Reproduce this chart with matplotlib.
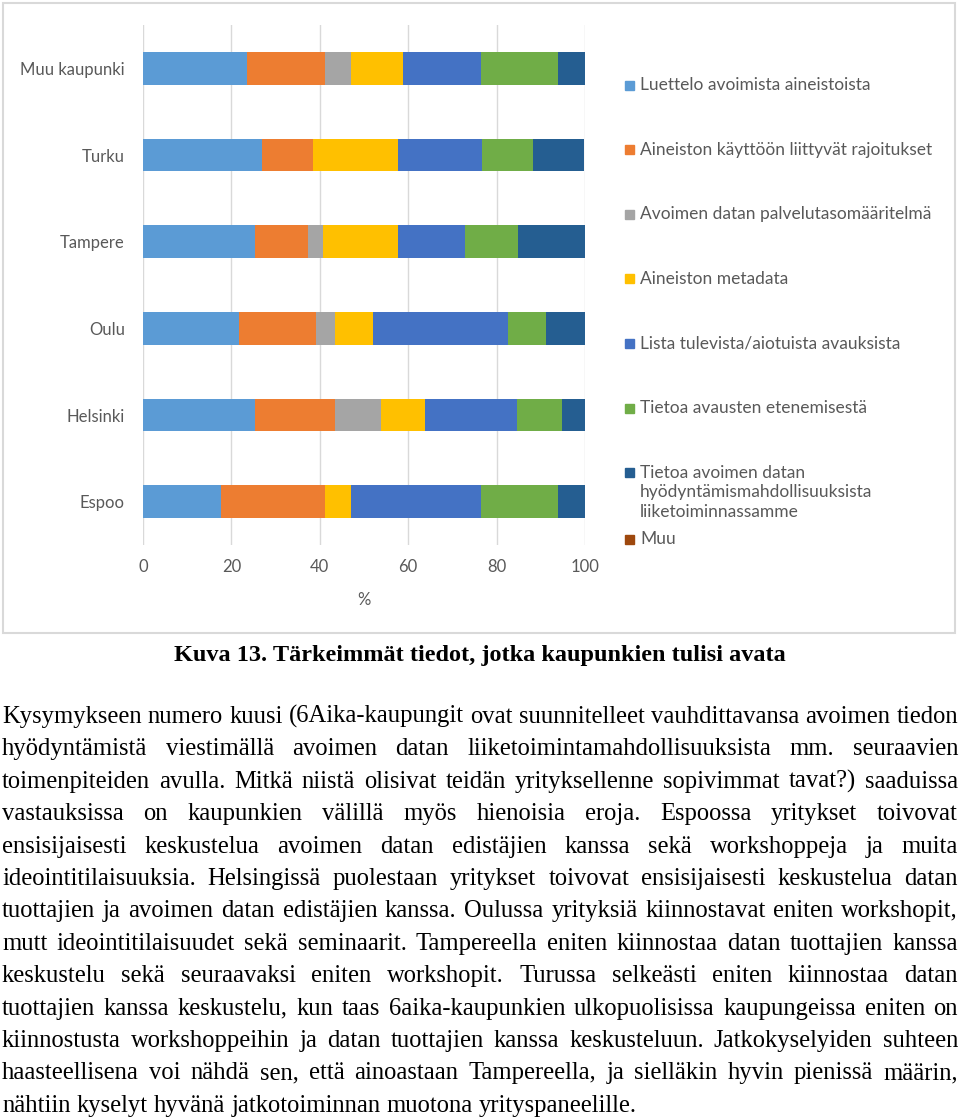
import matplotlib
matplotlib.use('Agg')
import matplotlib.pyplot as plt
from matplotlib.patches import Rectangle
import numpy as np

# Kaupungit ylhäältä alas
cities = ['Muu kaupunki', 'Turku', 'Tampere', 'Oulu', 'Helsinki', 'Espoo']

# Sarjojen nimet (legendan järjestys)
series_names = [
    'Luettelo avoimista aineistoista',
    'Aineiston käyttöön liittyvät rajoitukset',
    'Avoimen datan palvelutasomääritelmä',
    'Aineiston metadata',
    'Lista tulevista/aiotuista avauksista',
    'Tietoa avausten etenemisestä',
    'Tietoa avoimen datan\nhyödyntämismahdollisuuksista\nliiketoiminnassamme',
    'Muu',
]

# Osuudet (%) kaupungeittain
luettelo = [23.5, 26.9, 25.3, 21.7, 25.3, 17.6]
rajoitukset = [17.6, 11.5, 12.0, 17.4, 18.2, 23.5]
palvelutaso = [5.9, 0.0, 3.4, 4.3, 10.4, 0.0]
metadata = [11.8, 19.2, 17.1, 8.7, 10.0, 5.9]
lista = [17.6, 19.2, 15.1, 30.4, 20.8, 29.4]
eteneminen = [17.6, 11.5, 11.9, 8.7, 10.2, 17.6]
hyodyntaminen = [5.9, 11.5, 15.2, 8.7, 5.1, 5.9]
muu = [0.0, 0.0, 0.0, 0.0, 0.0, 0.0]

series_values = [luettelo, rajoitukset, palvelutaso, metadata,
                 lista, eteneminen, hyodyntaminen, muu]
colors = ['#5B9BD5', '#ED7D31', '#A5A5A5', '#FFC000',
          '#4472C4', '#70AD47', '#255E91', '#9E480E']

xticks = [0, 20, 40, 60, 80, 100]

caption = 'Kuva 13. Tärkeimmät tiedot, jotka kaupunkien tulisi avata'
body_lines = [
    'Kysymykseen numero kuusi (6Aika-kaupungit ovat suunnitelleet vauhdittavansa avoimen tiedon',
    'hyödyntämistä viestimällä avoimen datan liiketoimintamahdollisuuksista mm. seuraavien',
    'toimenpiteiden avulla. Mitkä niistä olisivat teidän yrityksellenne sopivimmat tavat?) saaduissa',
    'vastauksissa on kaupunkien välillä myös hienoisia eroja. Espoossa yritykset toivovat',
    'ensisijaisesti keskustelua avoimen datan edistäjien kanssa sekä workshoppeja ja muita',
    'ideointitilaisuuksia. Helsingissä puolestaan yritykset toivovat ensisijaisesti keskustelua datan',
    'tuottajien ja avoimen datan edistäjien kanssa. Oulussa yrityksiä kiinnostavat eniten workshopit,',
    'mutt ideointitilaisuudet sekä seminaarit. Tampereella eniten kiinnostaa datan tuottajien kanssa',
    'keskustelu sekä seuraavaksi eniten workshopit. Turussa selkeästi eniten kiinnostaa datan',
    'tuottajien kanssa keskustelu, kun taas 6aika-kaupunkien ulkopuolisissa kaupungeissa eniten on',
    'kiinnostusta workshoppeihin ja datan tuottajien kanssa keskusteluun. Jatkokyselyiden suhteen',
    'haasteellisena voi nähdä sen, että ainoastaan Tampereella, ja sielläkin hyvin pienissä määrin,',
    'nähtiin kyselyt hyvänä jatkotoiminnan muotona yrityspaneelille.',
]

W, H = 960, 1120
fig = plt.figure(figsize=(W / 100, H / 100), dpi=100)
fig.patch.set_facecolor('white')


def fx(x):
    return x / W


def fy(y):
    return 1 - y / H


chart_font = 'Lato'
grey_text = '#595959'
serif = 'Liberation Serif'

# kaavion kehys
fig.patches.append(Rectangle((fx(3), fy(633)), fx(952), 630 / H,
                             transform=fig.transFigure, fill=False,
                             edgecolor='#d9d9d9', linewidth=1.5))

ax = fig.add_axes([fx(143), fy(545), fx(442), 520 / H])
y = np.arange(len(cities))
left = np.zeros(len(cities))
for name, vals, col in zip(series_names, series_values, colors):
    ax.barh(y, vals, left=left, height=0.38, color=col, label=name, zorder=3)
    left += np.array(vals)

ax.set_xlim(0, 100)
ax.set_ylim(len(cities) - 0.5, -0.5)
ax.set_yticks(y)
ax.set_yticklabels(cities)
ax.set_xticks(xticks)
ax.tick_params(length=0, labelsize=12, labelcolor=grey_text)
ax.tick_params(axis='y', pad=13)
ax.tick_params(axis='x', pad=10)
for lab in ax.get_xticklabels() + ax.get_yticklabels():
    lab.set_family(chart_font)
ax.set_xlabel('%', fontsize=12, color=grey_text, family=chart_font, labelpad=12)
ax.grid(axis='x', color='#d9d9d9', linewidth=1, zorder=0)
for s in ax.spines.values():
    s.set_visible(False)

# legenda käsin (Excelin tiivistetty välistys)
leg_y = [85 + 64.6 * i for i in range(7)] + [539]
for name, col, ly in zip(series_names, colors, leg_y):
    fig.patches.append(Rectangle((fx(625), fy(ly + 4.5)), fx(9), 9 / H,
                                 transform=fig.transFigure, color=col))
    fig.text(fx(640), fy(ly - 8), name, ha='left', va='top', fontsize=12.5,
             color=grey_text, family=chart_font, linespacing=1.3)

# kuvateksti
fig.text(fx(480), fy(655), caption, ha='center', va='center', fontsize=17.5,
         fontweight='bold', family=serif)

# tasattu leipäteksti
renderer = fig.canvas.get_renderer()
body_size = 17.7
x0, x1 = 2, 958
sp_w = (fig.text(0, 0, 'a a', fontsize=body_size, family=serif).get_window_extent(renderer).width
        - fig.text(0, 0, 'aa', fontsize=body_size, family=serif).get_window_extent(renderer).width)
fig.texts = fig.texts[:-2]
for i, line in enumerate(body_lines):
    ly = fy(723 + 32.4 * i)
    words = line.split(' ')
    texts = [fig.text(0, ly, w, ha='left', va='baseline', fontsize=body_size,
                      family=serif) for w in words]
    widths = [t.get_window_extent(renderer).width for t in texts]
    if i == len(body_lines) - 1:
        gap = sp_w
    else:
        gap = (x1 - x0 - sum(widths)) / max(len(words) - 1, 1)
    x = x0
    for t, w in zip(texts, widths):
        t.set_x(fx(x))
        x += w + gap

fig.savefig('out.png', dpi=100, facecolor='white')
